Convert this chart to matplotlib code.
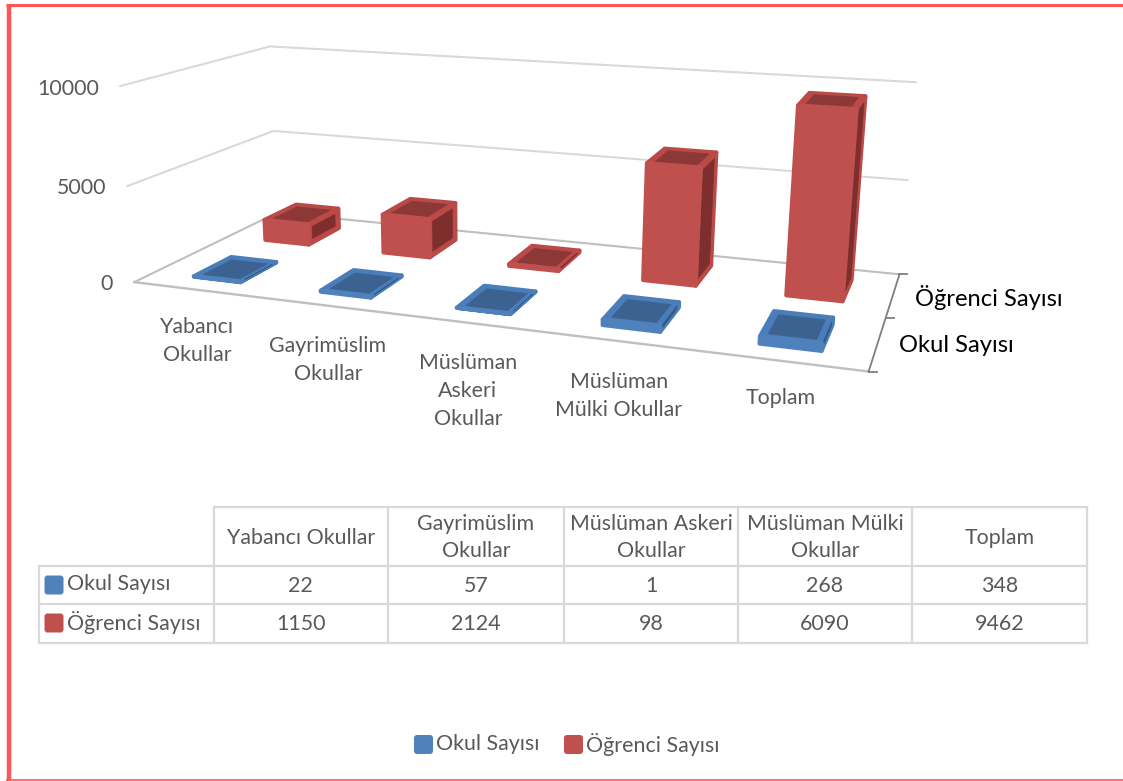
import matplotlib
matplotlib.use("Agg")
import numpy as np
from matplotlib import pyplot as plt
from matplotlib.patches import Polygon, FancyBboxPatch

plt.rcParams['font.family'] = ['Lato', 'DejaVu Sans']

categories = ["Yabancı Okullar", "Gayrimüslim Okullar", "Müslüman Askeri Okullar",
              "Müslüman Mülki Okullar", "Toplam"]
axis_labels = ["Yabancı\nOkullar", "Gayrimüslim\nOkullar", "Müslüman\nAskeri\nOkullar",
               "Müslüman\nMülki Okullar", "Toplam"]
table_heads = ["Yabancı Okullar", "Gayrimüslim\nOkullar", "Müslüman Askeri\nOkullar",
               "Müslüman Mülki\nOkullar", "Toplam"]
series_names = ["Okul Sayısı", "Öğrenci Sayısı"]
okul = [22, 57, 1, 268, 348]
ogrenci = [1150, 2124, 98, 6090, 9462]
y_ticks = [0, 5000, 10000]

GREY = "#595959"
BORDER = "#FF5555"
FS = 15.4
LS = 1.48
blue = dict(front="#4F81BD", outer="#4A7EBB", inner="#3C6291", side="#355A88")
red = dict(front="#C0504D", outer="#B94A48", inner="#8C3836", side="#7E2F2D")

# floor/wall corners in pixels (cat, depth, value) -> (x, y), used to fit the camera
calib = [
    ((0, 0, 0), (134, 281.7)), ((5, 0, 0), (869, 371)),
    ((5, 1, 0), (899, 275)), ((0, 1, 0), (277, 213)),
    ((0, 0, 5000), (127.5, 186)), ((0, 1, 5000), (274, 130.7)), ((5, 1, 5000), (908, 180)),
    ((0, 0, 10000), (120, 87)), ((0, 1, 10000), (270, 46)), ((5, 1, 10000), (915.5, 82)),
]


def fit_camera(points):
    rows = []
    for (c, d, v), (px, py) in points:
        p = [c, d, v / 10000, 1]
        rows.append(p + [0, 0, 0, 0] + [-px * q for q in p])
        rows.append([0, 0, 0, 0] + p + [-py * q for q in p])
    return np.linalg.svd(np.array(rows))[2][-1].reshape(3, 4)


cam = fit_camera(calib)


def proj(c, d, v):
    r = cam @ np.array([c, d, v / 10000, 1])
    return r[0] / r[2], r[1] / r[2]


fig = plt.figure(figsize=(11.23, 7.81), dpi=100)
ax = fig.add_axes([0, 0, 1, 1])
ax.set_xlim(0, 1123)
ax.set_ylim(781, 0)
ax.axis("off")

n = len(categories)

# gridlines
for t in y_ticks:
    col = "#BFBFBF" if t == 0 else "#D9D9D9"
    pts = [proj(0, 0, t), proj(0, 1, t), proj(n, 1, t)]
    ax.plot([p[0] for p in pts], [p[1] for p in pts], color=col, lw=1.5, zorder=1)
pts = [proj(0, 0, 0), proj(n, 0, 0)]
ax.plot([p[0] for p in pts], [p[1] for p in pts], color="#BFBFBF", lw=1.7, zorder=1)

# depth axis with ticks
pts = [proj(n, 0, 0), proj(n, 1, 0)]
ax.plot([p[0] for p in pts], [p[1] for p in pts], color="#7F7F7F", lw=1.3, zorder=2)
for d in [0, 0.5, 1]:
    p = proj(n, d, 0)
    ax.plot([p[0], p[0] + 8], [p[1], p[1]], color="#7F7F7F", lw=1.3, zorder=2)


def face(pts, color, z, lw=3):
    ax.add_patch(Polygon(pts, closed=True, facecolor=color, edgecolor=color, lw=lw,
                         joinstyle="round", zorder=z))


def bar(c, slot, value, cols, z):
    u0, u1 = c + 0.32, c + 0.695
    d0, d1 = (slot + 0.25) / 2, (slot + 0.75) / 2
    du = 0.04
    dd = 0.03
    dz = min(230, value * 0.2)
    # right side
    face([proj(u1, d0, 0), proj(u1, d1, 0), proj(u1, d1, value), proj(u1, d0, value)], cols["outer"], z)
    face([proj(u1, d0 + dd, dz), proj(u1, d1 - dd, dz), proj(u1, d1 - dd, value - dz),
          proj(u1, d0 + dd, value - dz)], cols["side"], z + 0.1, lw=0.5)
    # top
    face([proj(u0, d0, value), proj(u1, d0, value), proj(u1, d1, value), proj(u0, d1, value)], cols["outer"], z)
    face([proj(u0 + du, d0 + dd, value), proj(u1 - du, d0 + dd, value),
          proj(u1 - du, d1 - dd, value), proj(u0 + du, d1 - dd, value)], cols["inner"], z + 0.1, lw=0.5)
    # front
    face([proj(u0, d0, 0), proj(u1, d0, 0), proj(u1, d0, value), proj(u0, d0, value)], cols["front"], z + 0.2)


for i in range(n):
    bar(i, 1, ogrenci[i], red, 3 + i)
for i in range(n):
    bar(i, 0, okul[i], blue, 10 + i)

# value axis labels
for t, x, y in zip(y_ticks, [113, 106, 99], [284, 188, 89]):
    ax.text(x, y, str(t), ha="right", va="center", fontsize=FS, color=GREY)

# category labels
for lab, x, y in zip(axis_labels, [197, 328, 468, 619, 781], [341, 360, 391, 396, 398]):
    ax.text(x, y, lab, ha="center", va="center", fontsize=FS, color=GREY, linespacing=LS)

# depth labels
ax.text(915, 297, series_names[1], ha="left", va="center", fontsize=17.1, color="black")
ax.text(899, 346, series_names[0], ha="left", va="center", fontsize=17.1, color="black")

# data table
col_x = [39, 213.5, 388, 564, 738, 912, 1087]
row_y = [507, 566, 604, 642.5]
grid = dict(color="#D9D9D9", lw=1.6, zorder=2, solid_capstyle="projecting")
ax.plot([col_x[1], col_x[-1]], [row_y[0], row_y[0]], **grid)
for y in row_y[1:]:
    ax.plot([col_x[0], col_x[-1]], [y, y], **grid)
ax.plot([col_x[0], col_x[0]], [row_y[1], row_y[-1]], **grid)
for x in col_x[1:]:
    ax.plot([x, x], [row_y[0], row_y[-1]], **grid)

for i in range(n):
    xc = (col_x[i + 1] + col_x[i + 2]) / 2
    ax.text(xc, (row_y[0] + row_y[1]) / 2 + 1, table_heads[i], ha="center", va="center",
            fontsize=FS, color=GREY, linespacing=LS)
    ax.text(xc, (row_y[1] + row_y[2]) / 2 + 1, str(okul[i]), ha="center", va="center", fontsize=FS, color=GREY)
    ax.text(xc, (row_y[2] + row_y[3]) / 2 + 1, str(ogrenci[i]), ha="center", va="center", fontsize=FS, color=GREY)


def swatch(x, y, color):
    ax.add_patch(FancyBboxPatch((x + 2, y + 2), 15, 15, boxstyle="round,pad=2,rounding_size=3",
                                facecolor=color, edgecolor="none", zorder=3))


for j, (name, cols) in enumerate(zip(series_names, [blue, red])):
    y = row_y[j + 1]
    swatch(44.5, y + 9.5, cols["front"])
    ax.text(67, y + 18, name, ha="left", va="center", fontsize=FS, color=GREY)

# legend
for name, cols, sx, tx in zip(series_names, [blue, red], [414, 564], [436, 586]):
    swatch(sx, 735, cols["front"])
    ax.text(tx, 744, name, ha="left", va="center", fontsize=FS, color=GREY)

# red frame
ax.plot([8.5, 8.5], [5, 781], color=BORDER, lw=3.2, zorder=6, solid_capstyle="butt")
ax.plot([6, 1123], [5.3, 5.3], color=BORDER, lw=2.2, zorder=6, solid_capstyle="butt")
ax.plot([6, 1123], [780, 780], color=BORDER, lw=1.2, zorder=6, solid_capstyle="butt")

fig.savefig("out.png", dpi=100)
